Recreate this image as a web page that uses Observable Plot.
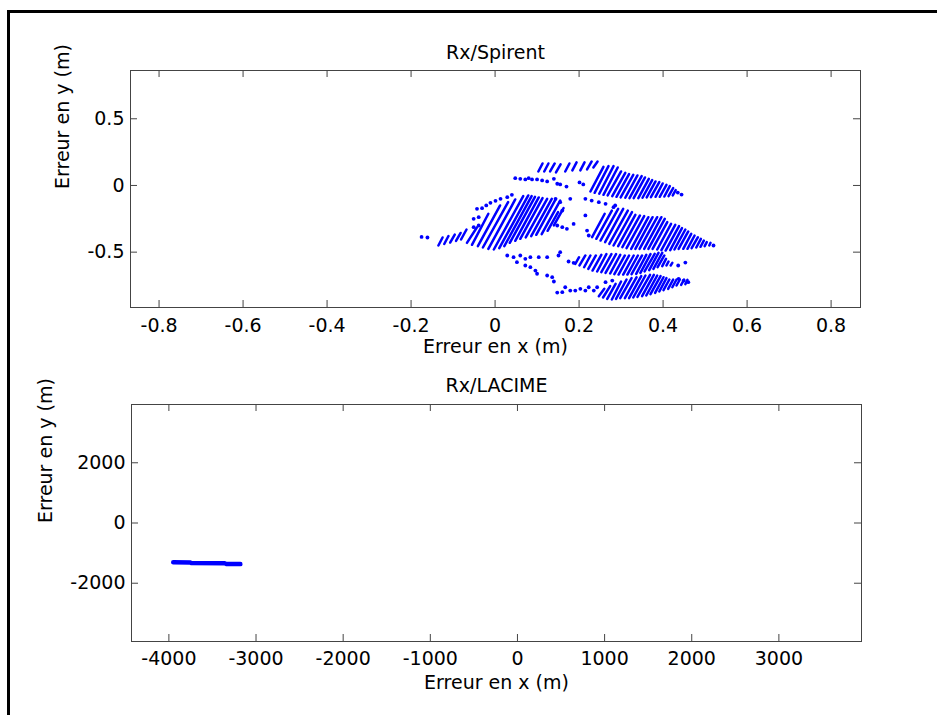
<!DOCTYPE html>
<html><head><meta charset="utf-8">
<script src="https://cdn.jsdelivr.net/npm/d3@7"></script>
<script src="https://cdn.jsdelivr.net/npm/@observablehq/plot@0.6"></script>
<style>
html,body{margin:0;padding:0;background:#fff;}
#fig{position:relative;width:937px;height:715px;overflow:hidden;background:#fff;}
#border{position:absolute;left:7px;top:10px;width:960px;height:740px;border-left:3px solid #000;border-top:3px solid #000;}
#top{position:absolute;left:0;top:0;}
#bottom{position:absolute;left:0;top:366px;}
</style></head><body>
<div id="fig"><div id="border"></div><div id="top"></div><div id="bottom"></div></div>
<script>
// ---------- tick values ----------
const spirentXTicks = [-0.8, -0.6, -0.4, -0.2, 0, 0.2, 0.4, 0.6, 0.8];
const spirentYTicks = [-0.5, 0, 0.5];
const lacimeXTicks = [-4000, -3000, -2000, -1000, 0, 1000, 2000, 3000];
const lacimeYTicks = [-2000, 0, 2000];

// ---------- Rx/Spirent : runs of points (x1, y1, x2, y2) in metres ----------
const tailStripes = [
  [-0.135,-0.450,-0.125,-0.390],[-0.121,-0.439,-0.111,-0.379],[-0.107,-0.428,-0.096,-0.368],
  [-0.093,-0.416,-0.082,-0.356],[-0.081,-0.405,-0.068,-0.330]
];
const mainStripes = [
  [-0.067,-0.430,-0.043,-0.313],[-0.055,-0.445,-0.016,-0.212],[-0.041,-0.455,0.012,-0.150],
  [-0.029,-0.465,0.031,-0.125],[-0.016,-0.475,0.048,-0.105],[-0.003,-0.480,0.067,-0.080],
  [0.010,-0.470,0.079,-0.075],[0.022,-0.455,0.087,-0.080],[0.035,-0.430,0.095,-0.085],
  [0.048,-0.415,0.104,-0.090],[0.060,-0.400,0.113,-0.095],[0.073,-0.390,0.124,-0.100],
  [0.086,-0.380,0.135,-0.100],[0.098,-0.370,0.144,-0.105],[0.111,-0.365,0.155,-0.113],
  [0.125,-0.340,0.150,-0.200],[0.140,-0.300,0.163,-0.170]
];
const topStripes = [
  [0.103,0.105,0.113,0.165],[0.117,0.105,0.127,0.165],[0.131,0.105,0.142,0.165],
  [0.145,0.098,0.156,0.158],[0.167,0.105,0.177,0.165],[0.184,0.113,0.194,0.173],
  [0.203,0.113,0.213,0.173],[0.219,0.120,0.230,0.180],[0.234,0.135,0.244,0.180]
];
const upperRightStripes = [
  [0.227,-0.045,0.258,0.140],[0.237,-0.055,0.270,0.145],[0.248,-0.062,0.282,0.145],
  [0.258,-0.070,0.292,0.135],[0.268,-0.075,0.300,0.105],[0.279,-0.080,0.310,0.095],
  [0.289,-0.085,0.319,0.085],[0.299,-0.090,0.329,0.080],[0.310,-0.092,0.339,0.075],
  [0.320,-0.095,0.349,0.070],[0.330,-0.095,0.357,0.060],[0.341,-0.095,0.366,0.050],
  [0.351,-0.092,0.374,0.040],[0.361,-0.090,0.382,0.030],[0.371,-0.088,0.391,0.025],
  [0.382,-0.085,0.399,0.015],[0.392,-0.085,0.408,0.005],[0.403,-0.083,0.416,-0.005],
  [0.413,-0.080,0.424,-0.020],[0.423,-0.075,0.430,-0.035]
];
const middleRightStripes = [
  [0.231,-0.388,0.261,-0.212],[0.241,-0.400,0.278,-0.188],[0.251,-0.413,0.293,-0.175],
  [0.262,-0.425,0.305,-0.175],[0.272,-0.438,0.316,-0.188],[0.282,-0.450,0.326,-0.200],
  [0.293,-0.455,0.334,-0.220],[0.303,-0.463,0.345,-0.225],[0.313,-0.470,0.355,-0.230],
  [0.324,-0.475,0.365,-0.238],[0.334,-0.475,0.375,-0.238],[0.344,-0.475,0.386,-0.238],
  [0.355,-0.475,0.396,-0.238],[0.365,-0.475,0.404,-0.250],[0.375,-0.475,0.410,-0.275],
  [0.386,-0.480,0.419,-0.288],[0.396,-0.485,0.429,-0.295],[0.406,-0.488,0.438,-0.305],
  [0.417,-0.485,0.445,-0.320],[0.427,-0.480,0.453,-0.330],[0.437,-0.475,0.460,-0.345],
  [0.448,-0.475,0.467,-0.363],[0.458,-0.475,0.475,-0.375],[0.468,-0.470,0.483,-0.388],
  [0.479,-0.465,0.490,-0.400],[0.489,-0.460,0.497,-0.413],[0.499,-0.455,0.504,-0.425],
  [0.510,-0.450,0.513,-0.430]
];
const lowerRightStripes = [
  [0.191,-0.588,0.200,-0.538],[0.201,-0.600,0.215,-0.525],[0.212,-0.613,0.227,-0.525],
  [0.222,-0.625,0.240,-0.525],[0.232,-0.638,0.253,-0.520],[0.243,-0.645,0.265,-0.515],
  [0.253,-0.650,0.277,-0.515],[0.263,-0.655,0.288,-0.515],[0.274,-0.660,0.298,-0.520],
  [0.284,-0.665,0.309,-0.525],[0.294,-0.668,0.319,-0.525],[0.305,-0.668,0.330,-0.525],
  [0.315,-0.668,0.340,-0.525],[0.325,-0.665,0.350,-0.525],[0.336,-0.663,0.360,-0.520],
  [0.346,-0.655,0.370,-0.515],[0.356,-0.645,0.380,-0.513],[0.367,-0.635,0.389,-0.505],
  [0.377,-0.625,0.398,-0.505],[0.387,-0.613,0.403,-0.525],[0.398,-0.605,0.407,-0.550],
  [0.408,-0.600,0.413,-0.570],[0.418,-0.600,0.422,-0.580]
];
const bottomStripes = [
  [0.247,-0.830,0.260,-0.775],[0.257,-0.840,0.274,-0.755],[0.267,-0.850,0.287,-0.738],
  [0.278,-0.855,0.300,-0.720],[0.288,-0.850,0.313,-0.705],[0.298,-0.845,0.325,-0.695],
  [0.309,-0.845,0.337,-0.688],[0.319,-0.845,0.348,-0.680],[0.329,-0.840,0.358,-0.675],
  [0.339,-0.835,0.369,-0.670],[0.350,-0.830,0.378,-0.670],[0.360,-0.825,0.386,-0.675],
  [0.370,-0.815,0.394,-0.680],[0.381,-0.805,0.401,-0.688],[0.391,-0.795,0.408,-0.695],
  [0.401,-0.785,0.415,-0.705],[0.412,-0.775,0.424,-0.705],[0.422,-0.763,0.432,-0.705],
  [0.432,-0.750,0.440,-0.705],[0.443,-0.745,0.450,-0.705],[0.453,-0.740,0.458,-0.708]
];
// isolated points (x, y) in metres
const spirentDots = [
  [-0.175,-0.386],[-0.161,-0.390],
  [-0.051,-0.250],[-0.039,-0.238],[-0.051,-0.313],[-0.039,-0.300],[-0.043,-0.175],[-0.031,-0.170],
  [-0.021,-0.150],[-0.011,-0.130],[0.001,-0.115],[0.013,-0.100],[0.029,-0.088],[0.040,-0.070],
  [0.029,-0.525],[0.044,-0.538],[0.060,-0.525],[0.072,-0.550],[0.084,-0.538],[0.104,-0.538],[0.124,-0.538],
  [0.052,-0.575],[0.072,-0.600],[0.084,-0.613],[0.096,-0.638],[0.100,-0.662],[0.124,-0.675],
  [0.136,-0.688],[0.140,-0.720],[0.148,-0.803],
  [0.048,0.055],[0.060,0.050],[0.072,0.045],[0.080,0.055],[0.088,0.045],[0.100,0.045],[0.112,0.038],
  [0.124,0.030],[0.140,0.050],[0.148,0.013],[0.155,0.008],[0.170,-0.008],[0.201,0.023],[0.210,0.008],
  [0.215,-0.100],[0.230,-0.113],[0.247,-0.125],[0.263,-0.138],[0.282,-0.163],[0.144,-0.100],
  [0.155,-0.125],[0.179,-0.100],[0.160,-0.188],[0.148,-0.300],[0.160,-0.313],[0.171,-0.325],[0.187,-0.288],
  [0.435,-0.053],[0.444,-0.068],
  [0.215,-0.225],[0.219,-0.338],[0.223,-0.375],[0.286,-0.150],[0.520,-0.450],
  [0.175,-0.570],[0.187,-0.580],[0.151,-0.525],[0.155,-0.500],
  [0.436,-0.600],[0.453,-0.578],
  [0.160,-0.800],[0.167,-0.763],[0.179,-0.788],[0.191,-0.788],[0.203,-0.775],[0.215,-0.788],
  [0.223,-0.763],[0.235,-0.788],[0.243,-0.763],[0.263,-0.725],[0.279,-0.713],
  [0.437,-0.700],[0.449,-0.713],[0.460,-0.725]
];

// ---------- Rx/LACIME ----------
const lacimeX = [-3950, -3760, -3740, -3360, -3340, -3180];
const lacimeY = [-1305, -1310, -1330, -1335, -1360, -1365];

// ---------- styles ----------
const BLUE = "#0000ff";
const AXIS = "#444";
const FONT = {fontFamily: "DejaVu Sans", fontSize: "19px", color: "#000", background: "transparent", overflow: "visible"};
const stripeStyle = {stroke: BLUE, strokeWidth: 2.5, strokeLinecap: "round"};
const stripes = arr => Plot.link(arr, {x1: d => d[0], y1: d => d[1], x2: d => d[2], y2: d => d[3], ...stripeStyle});
const fmt = d => String(d);

function boxTicks(xt, yt, fw, fh) {
  const L = 7;
  return [
    Plot.frame({stroke: AXIS}),
    Plot.tickX(xt, {x: d => d, insetTop: fh - L, stroke: AXIS}),
    Plot.tickX(xt, {x: d => d, insetBottom: fh - L, stroke: AXIS}),
    Plot.tickY(yt, {y: d => d, insetRight: fw - L, stroke: AXIS}),
    Plot.tickY(yt, {y: d => d, insetLeft: fw - L, stroke: AXIS})
  ];
}

const topChart = Plot.plot({
  width: 937, height: 366, marginLeft: 130, marginRight: 77, marginTop: 70, marginBottom: 59,
  style: FONT,
  x: {domain: [-0.868, 0.870]},
  y: {domain: [-0.915, 0.862]},
  marks: [
    stripes(tailStripes), stripes(mainStripes), stripes(topStripes), stripes(upperRightStripes),
    stripes(middleRightStripes), stripes(lowerRightStripes), stripes(bottomStripes),
    Plot.dot(spirentDots, {x: d => d[0], y: d => d[1], r: 1.9, fill: BLUE, stroke: null}),
    ...boxTicks(spirentXTicks, spirentYTicks, 730, 237),
    Plot.axisX({ticks: spirentXTicks, tickFormat: fmt, tickSize: 0, tickPadding: 11, label: null}),
    Plot.axisY({ticks: spirentYTicks, tickFormat: fmt, tickSize: 0, tickPadding: 6, label: null}),
    Plot.text(["Rx/Spirent"], {text: d => d, frameAnchor: "top", dy: -25}),
    Plot.text(["Erreur en x (m)"], {text: d => d, frameAnchor: "bottom", dy: 45}),
    Plot.text(["Erreur en y (m)"], {text: d => d, frameAnchor: "left", dx: -68, rotate: -90})
  ]
});
document.getElementById("top").append(topChart);

const lacimeData = lacimeX.map((x, i) => ({x, y: lacimeY[i]}));
const bottomChart = Plot.plot({
  width: 937, height: 349, marginLeft: 131, marginRight: 76, marginTop: 38, marginBottom: 74,
  style: FONT,
  x: {domain: [-4429, 3948]},
  y: {domain: [-3935, 3935]},
  marks: [
    Plot.line(lacimeData, {x: "x", y: "y", stroke: BLUE, strokeWidth: 4.5, strokeLinecap: "round"}),
    ...boxTicks(lacimeXTicks, lacimeYTicks, 730, 237),
    Plot.axisX({ticks: lacimeXTicks, tickFormat: fmt, tickSize: 0, tickPadding: 10, label: null}),
    Plot.axisY({ticks: lacimeYTicks, tickFormat: fmt, tickSize: 0, tickPadding: 6, label: null}),
    Plot.text(["Rx/LACIME"], {text: d => d, frameAnchor: "top", dy: -26}),
    Plot.text(["Erreur en x (m)"], {text: d => d, frameAnchor: "bottom", dy: 47}),
    Plot.text(["Erreur en y (m)"], {text: d => d, frameAnchor: "left", dx: -86, rotate: -90})
  ]
});
document.getElementById("bottom").append(bottomChart);
</script>
</body></html>
